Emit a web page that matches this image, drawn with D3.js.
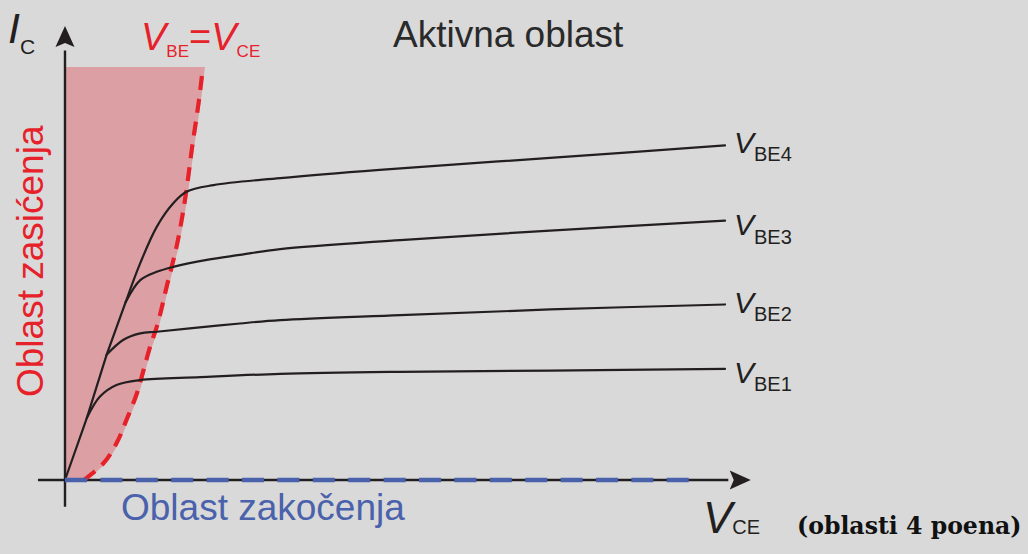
<!DOCTYPE html>
<html>
<head>
<meta charset="utf-8">
<script src="https://cdn.jsdelivr.net/npm/d3@7"></script>
<style>
    body { margin: 0; background: #d9d9d9; }
    svg { display: block; font-family: "Liberation Sans", Arial, sans-serif; }
</style>
</head>
<body>
<svg width="1028" height="554"></svg>
<script>
    // values, VCE / IC in arbitrary units (0..10)
    const seriesNames = ['BE1', 'BE2', 'BE3', 'BE4'];

    // common rising part from the origin, up to the last branch point
    const rise = [[0, 0], [0.33, 1.50], [0.63, 3.03], [0.92, 4.31]];

    const vbe1 = [[0.33, 1.50], [0.53, 2.02], [0.78, 2.30], [1.14, 2.42], [2.05, 2.49], [3.26, 2.57], [5.08, 2.62], [7.35, 2.65], [10, 2.69]];
    const vbe2 = [[0.63, 3.03], [0.88, 3.39], [1.14, 3.55], [1.39, 3.59], [1.89, 3.67], [2.65, 3.79], [3.26, 3.87], [5.08, 3.99], [7.35, 4.13], [10, 4.25]];
    const vbe3 = [[0.92, 4.31], [1.14, 4.84], [1.39, 5.04], [1.64, 5.16], [2.15, 5.33], [2.65, 5.45], [3.26, 5.59], [5.08, 5.81], [7.35, 6.04], [10, 6.28]];
    const vbe4 = [[0.92, 4.31], [1.14, 5.25], [1.39, 6.13], [1.64, 6.70], [1.84, 6.98], [2.25, 7.14], [3.26, 7.31], [4.77, 7.51], [7.35, 7.80], [10, 8.10]];

    // VBE = VCE boundary (edge of the saturation region)
    const boundary = [[0.29, 0], [0.58, 0.40], [0.78, 0.89], [0.93, 1.45], [1.09, 2.10], [1.19, 2.66], [1.29, 3.23], [1.39, 3.71], [1.54, 4.68], [1.69, 5.65], [1.84, 7.02], [1.92, 7.99], [2.03, 9.20], [2.09, 10]];

    // cut-off region along the VCE axis
    const cutoff = [[0, 0], [9.45, 0]];

    const series = [vbe1, vbe2, vbe3, vbe4];
    const labelNudge = [14, 8.5, 14.5, 7.5];

    const ink = '#231f20';
    const red = '#e6212a';
    const blue = '#4a61ab';

    const svg = d3.select('svg');

    const x = d3.scaleLinear().domain([0, 10]).range([65, 725]);
    const y = d3.scaleLinear().domain([0, 10]).range([480, 67]);

    const line = d3.line()
        .x(d => x(d[0]))
        .y(d => y(d[1]));

    // saturation region fill
    svg.append('path')
        .attr('d', d3.area()
            .curve(d3.curveMonotoneY)
            .y(d => y(d[1]))
            .x0(x(0))
            .x1(d => x(d[0]) + 2)(boundary))
        .attr('fill', '#dca0a4');

    // axes
    const axisX = [-0.41, 10.05], axisY = [-0.65, 10.4];
    svg.append('line')
        .attr('x1', x(axisX[0])).attr('x2', x(axisX[1]))
        .attr('y1', y(0)).attr('y2', y(0))
        .attr('stroke', ink).attr('stroke-width', 2.4);
    svg.append('line')
        .attr('x1', x(0)).attr('x2', x(0))
        .attr('y1', y(axisY[0])).attr('y2', y(axisY[1]))
        .attr('stroke', ink).attr('stroke-width', 2.4);

    const tipX = x(10.39), tipY = y(10.99);
    svg.append('path')
        .attr('d', `M${tipX},${y(0)} L${tipX - 21},${y(0) - 9.5} L${tipX - 17},${y(0)} L${tipX - 21},${y(0) + 9.5} Z`)
        .attr('fill', ink);
    svg.append('path')
        .attr('d', `M${x(0)},${tipY} L${x(0) - 9.5},${tipY + 21} L${x(0)},${tipY + 17} L${x(0) + 9.5},${tipY + 21} Z`)
        .attr('fill', ink);

    // red dashed boundary
    svg.append('path')
        .attr('d', line.curve(d3.curveMonotoneY)(boundary))
        .attr('fill', 'none')
        .attr('stroke', red)
        .attr('stroke-width', 4.2)
        .attr('stroke-dasharray', '14,9');

    // characteristic curves
    svg.append('path')
        .attr('d', line.curve(d3.curveLinear)(rise))
        .attr('fill', 'none')
        .attr('stroke', ink)
        .attr('stroke-width', 2.2);

    svg.selectAll('path.curve')
        .data(series)
        .enter().append('path')
        .attr('class', 'curve')
        .attr('d', d => line.curve(d3.curveCatmullRom.alpha(0.5))(d))
        .attr('fill', 'none')
        .attr('stroke', ink)
        .attr('stroke-width', 2.2)
        .attr('stroke-linecap', 'round');

    // blue dashed cut-off
    svg.append('path')
        .attr('d', line.curve(d3.curveLinear)(cutoff))
        .attr('fill', 'none')
        .attr('stroke', blue)
        .attr('stroke-width', 4.5)
        .attr('stroke-dasharray', '22,13.4');

    // curve labels
    const labels = svg.selectAll('text.vbe')
        .data(series)
        .enter().append('text')
        .attr('class', 'vbe')
        .attr('x', d => x(d[d.length - 1][0]) + 9)
        .attr('y', (d, i) => y(d[d.length - 1][1]) + labelNudge[i])
        .attr('fill', ink);
    labels.append('tspan')
        .attr('font-size', 30)
        .attr('font-style', 'italic')
        .text('V');
    labels.append('tspan')
        .attr('font-size', 20)
        .attr('dy', 8.5)
        .text((d, i) => seriesNames[i]);

    // I_C
    const ic = svg.append('text').attr('x', 8).attr('y', 43).attr('fill', ink);
    ic.append('tspan').attr('font-size', 43).attr('font-style', 'italic').text('I');
    ic.append('tspan').attr('font-size', 21).attr('dy', 11).text('C');

    // V_CE
    const vce = svg.append('text').attr('x', 703).attr('y', 533).attr('fill', ink);
    vce.append('tspan').attr('font-size', 44).attr('font-style', 'italic').text('V');
    vce.append('tspan').attr('font-size', 20).attr('dy', 1).text('CE');

    // V_BE = V_CE
    const eq = svg.append('text').attr('x', 141).attr('y', 50).attr('fill', red);
    eq.append('tspan').attr('font-size', 38).attr('font-style', 'italic').text('V');
    eq.append('tspan').attr('font-size', 17).attr('dy', 7).text('BE');
    eq.append('tspan').attr('font-size', 38).attr('dy', -7).text('=');
    eq.append('tspan').attr('font-size', 38).attr('font-style', 'italic').text('V');
    eq.append('tspan').attr('font-size', 17).attr('dy', 7).text('CE');

    svg.append('text')
        .attr('x', 393).attr('y', 47)
        .attr('font-size', 37)
        .attr('fill', '#2a2a2a')
        .text('Aktivna oblast');

    svg.append('text')
        .attr('transform', 'translate(43,397) rotate(-90)')
        .attr('font-size', 37)
        .attr('fill', red)
        .text('Oblast zasićenja');

    svg.append('text')
        .attr('x', 121).attr('y', 520)
        .attr('font-size', 37)
        .attr('fill', blue)
        .text('Oblast zakočenja');

    svg.append('text')
        .attr('x', 797).attr('y', 534)
        .attr('font-family', '"DejaVu Serif", "Liberation Serif", serif')
        .attr('font-weight', 'bold')
        .attr('font-size', 23.6)
        .attr('fill', '#111')
        .text('(oblasti 4 poena)');
</script>
</body>
</html>
